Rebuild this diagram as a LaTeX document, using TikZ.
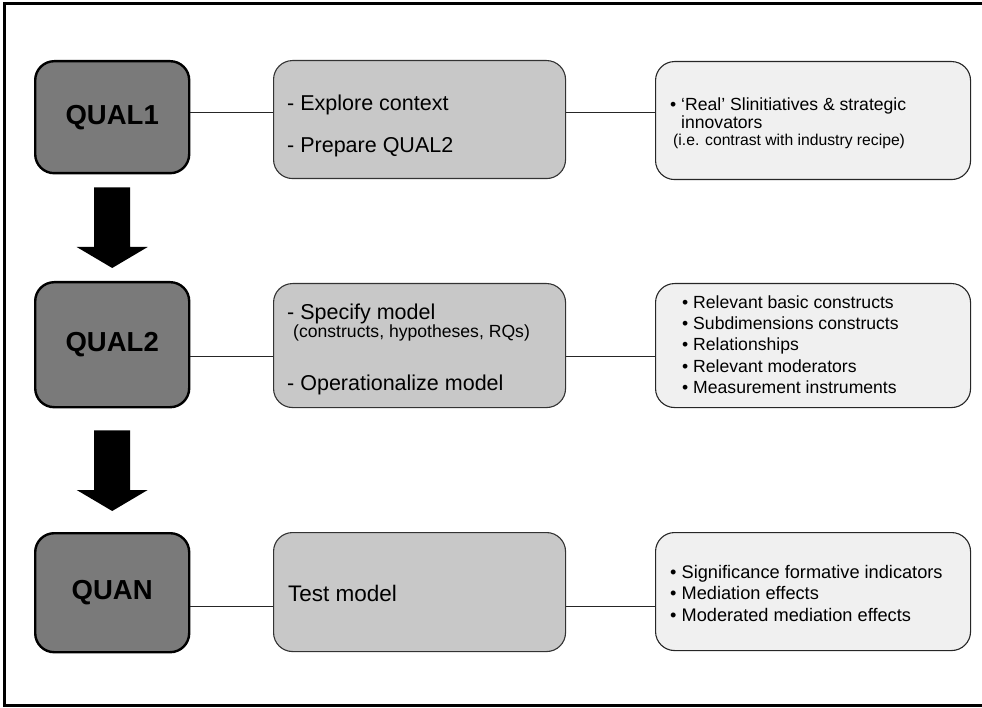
\documentclass[tikz,border=0pt]{standalone}
\usepackage{fontspec}
\setmainfont{Liberation Sans}
\usetikzlibrary{calc}

\definecolor{phasefill}{HTML}{7A7A7A}
\definecolor{taskfill}{HTML}{C8C8C8}
\definecolor{notefill}{HTML}{F0F0F0}
\definecolor{taskline}{HTML}{333333}

% block arrow from the bottom of one phase box to the top of the next
% #1 upper node, #2 lower node, #3 gap above, #4 gap below
\newcommand\phasearrow[4]{%
  \fill[black]
    ($(#1.south)+(-18,#3)$) -- ($(#1.south)+(18,#3)$)
    -- ($(#2.north)+(18,-#4-21)$) -- ($(#2.north)+(35.5,-#4-21)$)
    -- ($(#2.north)+(0,-#4)$)
    -- ($(#2.north)+(-35.5,-#4-21)$) -- ($(#2.north)+(-18,-#4-21)$) -- cycle;}

\tikzset{
  phase/.style={draw=black, line width=2.4pt, fill=phasefill,
    rounded corners=19pt, minimum width=154pt, anchor=north west,
    inner sep=0pt, font=\fontsize{27.5}{31}\selectfont\bfseries},
  task/.style={draw=taskline, line width=1.1pt, fill=taskfill,
    rounded corners=19pt, minimum width=292pt, anchor=north west, inner sep=0pt},
  note/.style={draw=black!85, line width=1.1pt, fill=notefill,
    rounded corners=19pt, minimum width=315pt, anchor=north west, inner sep=0pt},
  link/.style={draw=black!85, line width=0.9pt},
  tasktext/.style={anchor=base west, inner sep=0pt, font=\fontsize{21.5}{25}\selectfont},
  subtext/.style={anchor=base west, inner sep=0pt, font=\fontsize{17.6}{20}\selectfont},
  notetext/.style={anchor=base west, inner sep=0pt, font=\fontsize{17.6}{20}\selectfont},
  smalltext/.style={anchor=base west, inner sep=0pt, font=\fontsize{15.7}{18}\selectfont},
  testtext/.style={anchor=base west, inner sep=0pt, font=\fontsize{22.5}{26}\selectfont},
  resulttext/.style={anchor=base west, inner sep=0pt, font=\fontsize{18.2}{21}\selectfont},
}

\begin{document}
\begin{tikzpicture}[x=1pt,y=-1pt]
\useasboundingbox (0,0) rectangle (982,708);

% outer frame (its right side lies beyond the page)
\draw[line width=3pt] (990,4) -- (4.5,4) -- (4.5,705.5) -- (990,705.5);

% row 1
\node[phase, minimum height=112pt] (q1) at (34,60) {QUAL1};
\node[task, minimum height=118pt] (m1) at (273,60) {};
\node[note, minimum height=118pt] (r1) at (655,61) {};
\node[tasktext] (m1a) at (287,110.5) {- Explore context};
\node[tasktext] (m1b) at (287,152.5) {- Prepare QUAL2};
\node[notetext] (r1a) at (670,111) {•\ ‘Real’ Slinitiatives \& strategic};
\node[notetext] (r1b) at (681,129) {innovators};
\node[smalltext] (r1c) at (673,146) {(i.e. contrast with industry recipe)};

% row 2
\node[phase, minimum height=125pt] (q2) at (34,281) {QUAL2};
\node[task, minimum height=124pt] (m2) at (273,283) {};
\node[note, minimum height=124pt] (r2) at (655,283) {};
\node[tasktext] (m2a) at (287,319.5) {- Specify model};
\node[subtext] (m2b) at (293,337.5) {(constructs, hypotheses, RQs)};
\node[tasktext] (m2c) at (287,390) {- Operationalize model};
\node[notetext] (r2a) at (682,309) {•\ Relevant basic constructs};
\node[notetext] (r2b) at (682,330) {•\ Subdimensions constructs};
\node[notetext] (r2c) at (682,351) {•\ Relationships};
\node[notetext] (r2d) at (682,372) {•\ Relevant moderators};
\node[notetext] (r2e) at (682,393) {•\ Measurement instruments};

% row 3
\node[phase, minimum height=119pt] (q3) at (34,532) {QUAN};
\node[task, minimum height=119pt] (m3) at (273,532) {};
\node[note, minimum height=118pt] (r3) at (655,532) {};
\node[testtext] (m3a) at (288,601) {Test model};
\node[resulttext] (r3a) at (670,578) {•\ Significance formative indicators};
\node[resulttext] (r3b) at (670,599.5) {•\ Mediation effects};
\node[resulttext] (r3c) at (670,621) {•\ Moderated mediation effects};

% connectors
\coordinate (y1) at (0,112);
\coordinate (y2) at (0,356);
\coordinate (y3) at (0,606);
\draw[link] (q1.east |- y1) -- (m1.west |- y1);
\draw[link] (m1.east |- y1) -- (r1.west |- y1);
\draw[link] (q2.east |- y2) -- (m2.west |- y2);
\draw[link] (m2.east |- y2) -- (r2.west |- y2);
\draw[link] (q3.east |- y3) -- (m3.west |- y3);
\draw[link] (m3.east |- y3) -- (r3.west |- y3);

% sequence arrows
\phasearrow{q1}{q2}{13}{13}
\phasearrow{q2}{q3}{22}{21}
\end{tikzpicture}
\end{document}
